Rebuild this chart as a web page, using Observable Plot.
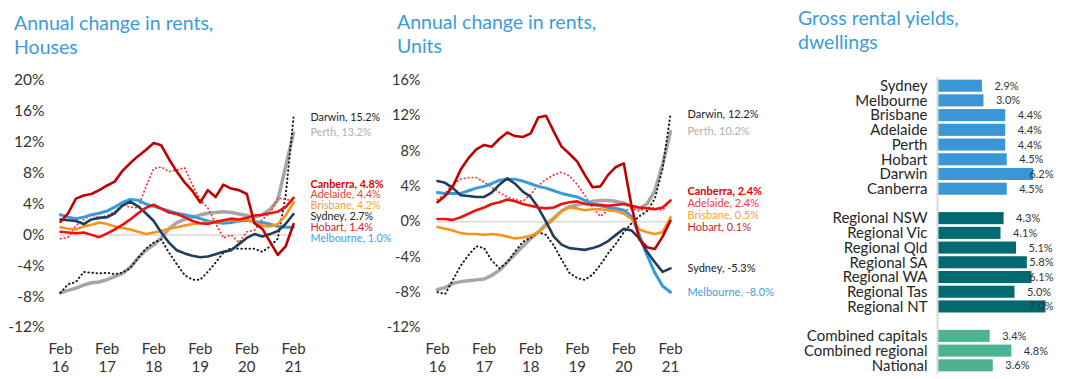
<!DOCTYPE html>
<html><head><meta charset="utf-8">
<script src="https://cdn.jsdelivr.net/npm/d3@7"></script>
<script src="https://cdn.jsdelivr.net/npm/@observablehq/plot@0.6"></script>
<style>
body{margin:0;background:#fff;font-family:Lato,sans-serif;}
#wrap{position:relative;width:1080px;height:379px;overflow:hidden;background:#fff;}
.title{position:absolute;color:#3D9BDB;font-size:19.5px;line-height:24px;white-space:nowrap;}
.panel{position:absolute;top:0;}
.panel svg{overflow:visible;}
</style></head><body>
<div id="wrap">
  <div class="title" style="left:14px;top:11px">Annual change in rents,<br>Houses</div>
  <div class="title" style="left:397px;top:10px">Annual change in rents,<br>Units</div>
  <div class="title" style="left:798px;top:6px">Gross rental yields,<br>dwellings</div>
  <div class="panel" id="p1" style="left:0"></div>
  <div class="panel" id="p2" style="left:380px"></div>
  <div class="panel" id="p3" style="left:780px"></div>
</div>
<script>
// ---------- DATA ----------
// bi-monthly observations, Feb 2016 .. Feb 2021 (31 points)
const months = d3.range(31).map(i => new Date(Date.UTC(2016, 1 + 2 * i, 1)));
const febTicks = [0, 6, 12, 18, 24, 30].map(i => months[i]);

const seriesNames = ["Darwin", "Perth", "Canberra", "Adelaide", "Brisbane", "Sydney", "Hobart", "Melbourne"];

// Houses, annual change in rents (%)
const houseDarwin    = [-7.5,-6.4,-6.1,-4.8,-4.9,-5.0,-4.9,-5.1,-4.9,-4.3,-3.0,-1.8,-1.0,-0.6,-2.3,-3.8,-5.2,-5.8,-5.8,-4.8,-3.6,-2.3,-1.7,-1.8,-1.8,-1.8,-2.2,-1.5,-0.5,5.0,15.2];
const housePerth     = [-7.5,-7.2,-6.9,-6.5,-6.2,-6.1,-5.8,-5.4,-5.0,-4.2,-3.0,-2.0,-1.3,-0.4,0.8,1.6,2.0,2.3,2.6,2.8,2.9,3.0,2.9,2.7,2.5,2.3,2.6,3.3,4.5,8.8,13.2];
const houseCanberra  = [0.4,0.3,0.2,0.3,0.0,-0.3,0.2,0.7,1.3,2.0,2.8,3.5,3.9,3.4,2.9,2.7,2.3,1.8,1.5,1.4,1.7,1.9,2.1,2.0,2.2,2.5,2.6,2.8,3.0,3.6,4.8];
const houseAdelaide  = [-0.5,-0.3,1.2,2.0,2.6,2.2,2.5,3.0,3.9,3.6,3.5,6.2,8.6,8.8,8.2,8.4,8.7,6.5,4.5,3.5,1.5,-0.4,0.0,-1.0,0.4,0.6,2.0,2.8,4.8,4.6,4.4];
const houseBrisbane  = [1.0,0.8,0.7,1.1,1.3,1.6,1.4,1.1,0.9,0.7,0.4,0.1,0.3,0.5,0.8,1.0,1.2,1.4,1.5,1.6,1.7,1.8,1.9,1.9,2.0,1.6,1.2,1.1,1.4,2.5,4.2];
const houseSydney    = [2.0,1.9,1.8,1.4,2.0,2.2,2.3,2.8,3.8,4.3,3.7,2.8,1.8,0.3,-1.0,-2.0,-2.4,-2.7,-2.9,-2.8,-2.5,-2.2,-2.0,-1.2,-0.4,0.1,-0.2,0.1,0.5,1.4,2.7];
const houseHobart    = [1.7,2.8,4.7,5.1,5.3,5.8,6.4,6.9,8.3,9.3,10.2,11.0,11.9,11.6,9.8,8.2,6.8,5.7,4.2,5.8,4.9,6.5,6.0,5.8,5.3,1.5,0.8,-0.9,-2.6,-1.5,1.4];
const houseMelbourne = [2.6,2.3,2.1,2.3,2.6,2.8,3.1,3.6,4.2,4.6,4.5,4.0,3.7,3.4,3.1,2.8,2.6,2.4,2.1,1.8,1.6,1.5,1.6,1.8,1.9,1.7,1.6,1.4,1.1,1.0,1.0];

// Units, annual change in rents (%)
const unitDarwin    = [-8.0,-8.2,-6.6,-5.0,-3.8,-2.8,-3.0,-4.4,-5.3,-4.6,-3.4,-2.3,-1.8,-1.2,-1.5,-2.7,-4.3,-5.8,-6.4,-6.6,-6.0,-4.9,-3.6,-2.5,-1.2,-0.2,0.6,1.2,2.6,6.0,12.2];
const unitPerth     = [-7.7,-7.5,-7.0,-6.8,-6.7,-6.6,-6.5,-6.1,-5.5,-4.6,-3.7,-2.8,-1.9,-1.2,-0.3,0.4,1.2,1.7,1.9,2.1,2.3,2.4,2.4,2.3,2.1,1.7,1.5,2.0,3.5,6.5,10.2];
const unitCanberra  = [0.3,0.3,0.2,0.5,0.9,1.3,1.6,2.0,2.2,2.5,2.3,2.0,1.8,1.6,1.5,1.6,2.0,2.2,2.3,2.0,1.9,1.9,1.8,1.9,2.0,1.8,1.6,1.5,1.4,1.6,2.4];
const unitAdelaide  = [2.5,3.2,4.3,4.8,5.0,5.0,4.5,3.9,3.3,2.8,2.5,2.3,3.1,4.1,4.8,5.3,5.6,5.2,4.2,3.0,1.6,0.6,1.3,1.3,1.2,1.5,1.2,1.6,1.5,1.3,2.4];
const unitBrisbane  = [-0.6,-0.8,-1.0,-1.3,-1.4,-1.4,-1.5,-1.4,-1.5,-1.7,-1.9,-1.8,-1.6,-1.2,-0.5,0.3,1.2,1.6,1.5,1.3,1.4,1.4,1.3,1.2,0.9,0.3,-0.9,-1.2,-1.4,-1.2,0.5];
const unitSydney    = [4.6,4.4,3.8,3.0,2.9,2.8,2.8,3.3,4.2,4.9,4.3,3.4,2.8,1.6,0.0,-1.7,-2.6,-3.0,-3.1,-3.2,-3.0,-2.7,-2.2,-1.5,-0.8,-1.0,-1.9,-3.4,-4.6,-5.7,-5.3];
const unitHobart    = [2.2,2.9,4.0,5.9,7.2,8.2,8.7,8.5,9.4,10.1,9.7,9.6,10.0,11.8,12.0,10.2,8.5,7.7,6.8,5.3,3.9,4.0,5.3,6.2,6.6,1.8,-2.0,-2.9,-3.1,-1.7,0.1];
const unitMelbourne = [3.3,3.2,3.2,3.2,3.5,3.8,4.0,4.3,4.7,4.8,4.8,4.6,4.3,4.0,3.8,3.5,3.2,3.0,2.8,2.4,2.0,1.8,1.6,1.5,1.3,0.6,-1.5,-3.8,-5.8,-7.3,-8.0];

// Gross rental yields, dwellings (%)
const capitalNames  = ["Sydney","Melbourne","Brisbane","Adelaide","Perth","Hobart","Darwin","Canberra"];
const capitalYields = [2.9,3.0,4.4,4.4,4.4,4.5,6.2,4.5];
const regionalNames  = ["Regional NSW","Regional Vic","Regional Qld","Regional SA","Regional WA","Regional Tas","Regional NT"];
const regionalYields = [4.3,4.1,5.1,5.8,6.1,5.0,7.0];
const combinedNames  = ["Combined capitals","Combined regional","National"];
const combinedYields = [3.4,4.8,3.6];

// ---------- STYLES ----------
const lineStyle = {
  Perth:     {stroke: "#A6A6A6", strokeWidth: 3.5},
  Darwin:    {stroke: "#1b1b1b", strokeWidth: 2, strokeDasharray: "0.5,3.6"},
  Adelaide:  {stroke: "#F23A3A", strokeWidth: 1.8, strokeDasharray: "0.5,3.4"},
  Melbourne: {stroke: "#3A9BDA", strokeWidth: 3},
  Brisbane:  {stroke: "#F7941D", strokeWidth: 2.6},
  Sydney:    {stroke: "#1F3D5C", strokeWidth: 2.6},
  Canberra:  {stroke: "#EE1010", strokeWidth: 2.6},
  Hobart:    {stroke: "#C00000", strokeWidth: 2.6}
};
const drawOrder = ["Perth","Darwin","Adelaide","Melbourne","Brisbane","Sydney","Canberra","Hobart"];
const labelStyle = {
  Darwin:    {fill: "#222222"},
  Perth:     {fill: "#B0B0B0"},
  Canberra:  {fill: "#E00000", fontWeight: "bold"},
  Adelaide:  {fill: "#F03A3A"},
  Brisbane:  {fill: "#F7A23C"},
  Sydney:    {fill: "#222222"},
  Hobart:    {fill: "#CC1B2B"},
  Melbourne: {fill: "#3FA0DD"}
};

function spreadLabels(items, gap) {
  const sorted = items.slice().sort((a, b) => b.value - a.value);
  let groups = sorted.map(d => ({items: [d], center: d.value}));
  let changed = true;
  while (changed) {
    changed = false;
    for (let i = 0; i < groups.length - 1; i++) {
      const a = groups[i], b = groups[i + 1];
      const aBottom = a.center - (a.items.length - 1) * gap / 2;
      const bTop = b.center + (b.items.length - 1) * gap / 2;
      if (aBottom - bTop < gap) {
        const its = a.items.concat(b.items);
        groups.splice(i, 2, {items: its, center: d3.mean(its, d => d.value)});
        changed = true; break;
      }
    }
  }
  groups.forEach(g => g.items.forEach((d, k) => d.pos = g.center + ((g.items.length - 1) / 2 - k) * gap));
  return sorted;
}

function lineChart(values, opts) {
  const rows = {};
  seriesNames.forEach((n, j) => rows[n] = values[j].map((v, i) => ({date: months[i], value: v, name: n})));
  const ends = spreadLabels(seriesNames.map((n, j) => ({name: n, value: values[j][values[j].length - 1], date: months[30]})), opts.gap);
  const marks = [
    Plot.axisY({ticks: opts.yTicks, tickSize: 0, tickPadding: opts.tickPad, tickFormat: d => d + "%", fontSize: opts.yFont, label: null}),
    Plot.axisX({ticks: febTicks, tickSize: 0, tickPadding: 13, fontSize: 15, lineHeight: 1.22, label: null,
      tickFormat: d => "Feb\n" + String(d.getUTCFullYear()).slice(2)}),
    Plot.ruleY([0], {stroke: "#D9D9D9", strokeWidth: 1.5})
  ];
  drawOrder.forEach(n => marks.push(Plot.line(rows[n], {x: "date", y: "value", curve: "linear", ...lineStyle[n]})));
  ends.forEach(d => marks.push(Plot.text([d], {x: "date", y: "pos", dx: opts.labelDx, text: e => `${e.name}, ${e.value.toFixed(1)}%`,
    textAnchor: "start", fontSize: opts.labelFont, ...labelStyle[d.name]})));
  return Plot.plot({
    width: opts.width, height: 379,
    marginLeft: opts.marginLeft, marginRight: opts.width - opts.marginLeft - 233, marginTop: 80, marginBottom: 52,
    style: {fontFamily: "Lato, sans-serif", fontSize: "14px", color: "#333", background: "transparent", overflow: "visible"},
    x: {type: "utc", domain: [months[0], months[30]], axis: null},
    y: {domain: opts.yDomain, axis: null},
    marks
  });
}

document.getElementById("p1").append(lineChart(
  [houseDarwin, housePerth, houseCanberra, houseAdelaide, houseBrisbane, houseSydney, houseHobart, houseMelbourne],
  {width: 380, marginLeft: 60, tickPad: 16, yFont: 15.5, labelFont: 10.8, yDomain: [-12, 20], yTicks: [-12,-8,-4,0,4,8,12,16,20], gap: 1.4, labelDx: 17}));

document.getElementById("p2").append(lineChart(
  [unitDarwin, unitPerth, unitCanberra, unitAdelaide, unitBrisbane, unitSydney, unitHobart, unitMelbourne],
  {width: 400, marginLeft: 57, tickPad: 17, yFont: 14.5, labelFont: 11, yDomain: [-12, 16], yTicks: [-12,-8,-4,0,4,8,12,16], gap: 1.36, labelDx: 17}));

// ---------- YIELDS ----------
const yields = [
  ...capitalNames.map((n, i) => ({name: n, value: capitalYields[i], group: "capital"})),
  ...regionalNames.map((n, i) => ({name: n, value: regionalYields[i], group: "regional"})),
  ...combinedNames.map((n, i) => ({name: n, value: combinedYields[i], group: "combined"}))
];
const yDomain = [...capitalNames, "_gap1", ...regionalNames, "_gap2", ...combinedNames];

document.getElementById("p3").append(Plot.plot({
  width: 300, height: 379, marginLeft: 157, marginRight: 33, marginTop: 77, marginBottom: 5,
  style: {fontFamily: "Lato, sans-serif", fontSize: "15px", color: "#262626", background: "transparent", overflow: "visible"},
  x: {domain: [0, 7.1], axis: null},
  y: {domain: yDomain, padding: 0.18, round: false, axis: null},
  color: {domain: ["capital", "regional", "combined"], range: ["#3B96D5", "#006A70", "#4DB290"]},
  marks: [
    Plot.axisY({tickSize: 0, tickPadding: 10, fontSize: 15, label: null, tickFormat: d => d.startsWith("_") ? "" : d}),
    Plot.barX(yields, {x: "value", y: "name", fill: "group"}),
    Plot.ruleX([0], {stroke: "#D9D9D9", strokeWidth: 2}),
    Plot.text(yields, {x: d => Math.min(d.value, 5.15), y: "name", dx: 12, text: d => d.value.toFixed(1) + "%",
      textAnchor: "start", fontSize: 11, fill: "#333"})
  ]
}));
</script>
</body></html>
